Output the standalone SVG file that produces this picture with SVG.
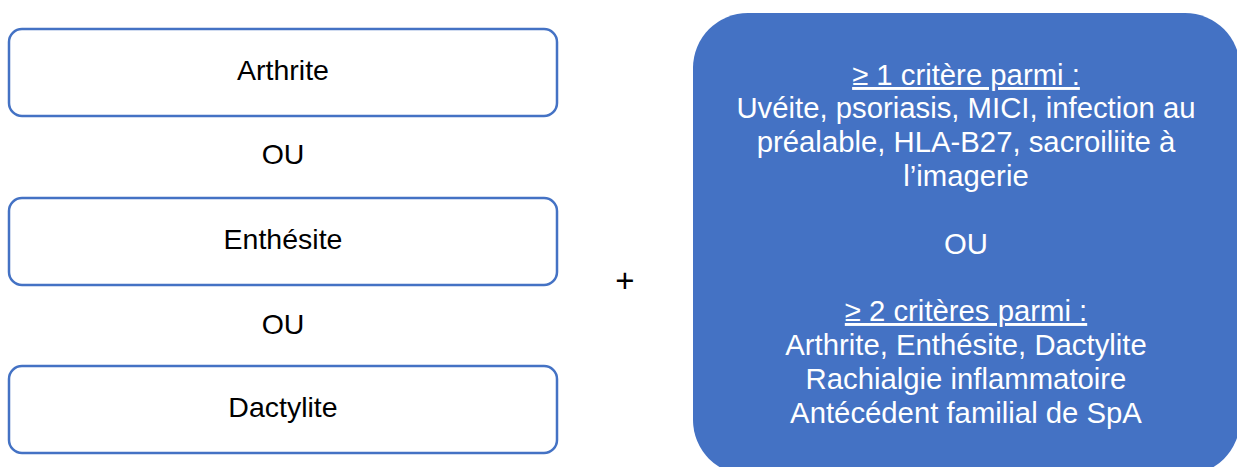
<svg xmlns="http://www.w3.org/2000/svg" width="1237" height="467" viewBox="0 0 1237 467">
  <style>
    .box { fill: #ffffff; stroke: #4472C4; stroke-width: 2.5; }
    .lbl { font-family: "Liberation Sans", Arial, sans-serif; font-size: 28.5px; fill: #000000; text-anchor: middle; }
    .crit { fill: #4472C4; }
    .wt { font-family: "Liberation Sans", Arial, sans-serif; font-size: 29.3px; fill: #ffffff; text-anchor: middle; }
    .ul { text-decoration: underline; }
  </style>
  <rect width="1237" height="467" fill="#ffffff"/>
  <g id="arthrite">
    <rect class="box" x="9" y="29" width="548" height="87" rx="13"/>
    <text class="lbl" x="283" y="80">Arthrite</text>
  </g>
  <g id="ou1">
    <text class="lbl" x="283" y="164">OU</text>
  </g>
  <g id="enthesite">
    <rect class="box" x="9" y="198" width="548" height="87" rx="13"/>
    <text class="lbl" x="283" y="249">Enthésite</text>
  </g>
  <g id="ou2">
    <text class="lbl" x="283" y="334">OU</text>
  </g>
  <g id="dactylite">
    <rect class="box" x="9" y="366" width="548" height="87" rx="13"/>
    <text class="lbl" x="283" y="417">Dactylite</text>
  </g>
  <g id="plus">
    <text class="lbl" x="625" y="292" style="font-size:33px">+</text>
  </g>
  <g id="criteres">
    <rect class="crit" x="693" y="13" width="547" height="462" rx="55"/>
    <text class="wt ul" x="966" y="85">≥ 1 critère parmi :</text>
    <text class="wt" x="966" y="118">Uvéite, psoriasis, MICI, infection au</text>
    <text class="wt" x="966" y="152">préalable, HLA-B27, sacroiliite à</text>
    <text class="wt" x="966" y="186">l’imagerie</text>
    <text class="wt" x="966" y="254">OU</text>
    <text class="wt ul" x="966" y="321">≥ 2 critères parmi :</text>
    <text class="wt" x="966" y="355">Arthrite, Enthésite, Dactylite</text>
    <text class="wt" x="966" y="389">Rachialgie inflammatoire</text>
    <text class="wt" x="966" y="423">Antécédent familial de SpA</text>
  </g>
  <g id="connectors"></g>
</svg>
